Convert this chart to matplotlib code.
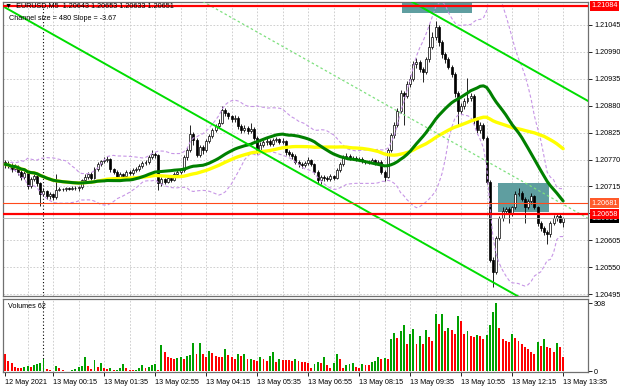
# EURUSD M5 chart, MetaTrader style: candles, SMA 30/50, Bollinger 20,
# regression channel, levels and a volume sub-window.
import numpy as np
import pandas as pd
import matplotlib
matplotlib.use('Agg')
import matplotlib.pyplot as plt
from matplotlib.patches import Rectangle

# prices are stored as points above 1.20000 (1 point = 0.00001)
BASE = 1.20000
PT = 0.00001

open_first = 765
close = [
    760, 758, 750, 755, 745, 735, 742, 715, 730, 737,
    722, 700, 705, 695, 700, 693, 708, 710, 709, 711,
    710, 712, 711, 713, 728, 735, 740, 733, 750, 760,
    766, 770, 772, 750, 745, 735, 740, 737, 745, 742,
    748, 750, 757, 763, 765, 775, 782, 780, 722, 730,
    725, 733, 728, 740, 745, 748, 775, 790, 822, 810,
    780, 795, 790, 808, 818, 830, 838, 845, 872, 865,
    858, 852, 855, 838, 830, 835, 828, 832, 815, 790,
    800, 805, 808, 802, 810, 812, 806, 808, 785, 782,
    778, 765, 760, 758, 762, 768, 760, 745, 728, 735,
    732, 730, 736, 733, 748, 760, 775, 778, 772, 774,
    770, 772, 766, 764, 765, 768, 762, 765, 745, 735,
    790, 820, 840, 870, 905, 900, 925, 935, 965, 970,
    955, 948, 975, 1000, 1020, 1040, 1010, 985, 975, 960,
    945, 905, 870, 880, 890, 895, 900, 850, 830, 840,
    815, 725, 565, 540, 610, 650, 665, 668, 660, 672,
    700, 702, 690, 672, 685, 695, 672, 640, 630, 622,
    618, 640, 650, 655, 643, 651]
high = [
    768, 766, 762, 760, 758, 748, 746, 744, 734, 741,
    739, 724, 712, 708, 704, 702, 741, 713, 712, 713,
    714, 715, 716, 716, 731, 740, 745, 744, 755, 764,
    770, 775, 777, 774, 753, 749, 744, 743, 748, 748,
    752, 755, 760, 767, 770, 780, 790, 786, 782, 735,
    733, 737, 736, 744, 749, 752, 779, 795, 840, 826,
    813, 800, 799, 812, 822, 834, 843, 852, 880, 876,
    868, 862, 860, 858, 842, 840, 839, 845, 836, 818,
    805, 810, 813, 812, 815, 817, 815, 813, 810, 790,
    786, 781, 769, 764, 767, 775, 772, 763, 748, 739,
    738, 736, 740, 739, 752, 765, 779, 783, 781, 778,
    777, 776, 775, 769, 769, 773, 771, 770, 768, 748,
    794, 825, 846, 876, 912, 910, 931, 942, 972, 978,
    974, 960, 980, 1047, 1030, 1053, 1044, 1015, 990, 980,
    964, 948, 910, 886, 896, 937, 906, 904, 856, 846,
    845, 818, 728, 570, 614, 655, 672, 673, 672, 676,
    706, 712, 706, 694, 690, 702, 698, 675, 645, 634,
    626, 645, 656, 660, 660, 653]
low = [
    752, 752, 745, 746, 738, 728, 730, 710, 712, 726,
    716, 676, 695, 690, 690, 688, 690, 705, 706, 706,
    707, 707, 708, 706, 710, 724, 731, 728, 730, 746,
    756, 762, 765, 745, 740, 730, 731, 733, 734, 738,
    739, 745, 746, 753, 758, 761, 772, 774, 708, 716,
    720, 721, 724, 726, 736, 741, 745, 770, 786, 800,
    775, 776, 782, 786, 804, 814, 826, 834, 842, 858,
    852, 846, 846, 832, 824, 826, 823, 824, 810, 782,
    786, 796, 800, 797, 798, 806, 801, 802, 780, 777,
    772, 760, 755, 753, 754, 758, 756, 740, 722, 720,
    727, 726, 727, 729, 730, 745, 757, 771, 768, 768,
    766, 766, 762, 760, 760, 762, 758, 759, 740, 727,
    732, 786, 815, 836, 866, 840, 896, 918, 930, 958,
    948, 928, 944, 970, 995, 1015, 1002, 978, 968, 955,
    938, 898, 839, 864, 874, 885, 890, 843, 823, 825,
    810, 720, 560, 509, 535, 605, 645, 660, 640, 655,
    668, 695, 685, 641, 668, 680, 668, 635, 624, 616,
    598, 612, 636, 645, 640, 633]
volume = [
    77, 46, 38, 20, 15, 12, 18, 22, 18, 28,
    34, 38, 54, 8, 4, 2, 22, 12, 3, 2,
    1, 4, 10, 18, 25, 66, 23, 10, 49, 18,
    35, 12, 11, 16, 4, 6, 15, 31, 12, 6,
    3, 6, 12, 28, 15, 18, 28, 34, 6, 120,
    85, 62, 58, 54, 58, 62, 54, 69, 74, 126,
    77, 126, 77, 65, 92, 83, 68, 66, 62, 100,
    74, 65, 54, 80, 69, 77, 54, 57, 51, 46,
    62, 54, 46, 69, 89, 43, 54, 51, 50, 49,
    48, 57, 46, 43, 41, 38, 15, 31, 43, 38,
    62, 28, 15, 38, 80, 54, 12, 28, 34, 38,
    18, 12, 31, 28, 27, 43, 46, 62, 54, 58,
    54, 146, 172, 151, 182, 208, 123, 169, 192, 123,
    162, 123, 185, 157, 139, 259, 216, 262, 182, 197,
    188, 169, 249, 228, 169, 182, 162, 154, 166,
    162, 146, 166, 208, 270, 308, 197, 146, 139, 131,
    169, 150, 139, 123, 108, 100, 85, 77, 131, 115, 146,
    108, 107, 89, 126, 111, 62]

time_ticks = [0, 15, 31, 47, 63, 79, 95, 111, 127, 143, 159, 175]
time_labels = ['12 May 2021', '13 May 00:15', '13 May 01:35', '13 May 02:55',
               '13 May 04:15', '13 May 05:35', '13 May 06:55', '13 May 08:15',
               '13 May 09:35', '13 May 10:55', '13 May 12:15', '13 May 13:35']
day_break = 12                     # 13 May 00:00
price_levels = [495, 550, 605, 660, 715, 770, 825, 880, 935, 990, 1045]

# drawn objects
red_levels = [1084, 658]
orange_level = 681
zones = [(125, 146, 1070, 1100), (155, 170, 662, 721)]   # bar from/to, price low/high
channel_start = 1080.6             # lower line at bar 0
channel_slope = -3.67              # points per bar
channel_size = 480

FS = 5.2
plt.rcParams['font.family'] = ['Liberation Sans', 'DejaVu Sans']
plt.rcParams['font.size'] = FS

W, H = 620, 388
fig = plt.figure(figsize=(W / 100, H / 100), dpi=100)
fig.patch.set_facecolor('white')


def px_axes(l, t, r, b):
    return fig.add_axes([l / W, 1 - b / H, (r - l) / W, (b - t) / H])


ax = px_axes(3, 2, 588, 296)
axv = px_axes(3, 299, 588, 372)

n = len(close)
idx = np.arange(n)
c = BASE + np.array(close) * PT
o = BASE + np.array([open_first] + close[:-1]) * PT
h = BASE + np.array(high) * PT
lo = BASE + np.array(low) * PT

s = pd.Series(c)
sma30 = s.rolling(30, min_periods=1).mean()
sma50 = s.rolling(50, min_periods=1).mean()
bb_mid = s.rolling(20, min_periods=1).mean()
bb_std = s.rolling(20, min_periods=1).std(ddof=0)

xlim = (-0.7, 182.8)
grid_kw = dict(color='#c8c8c8', lw=0.6, ls=(0, (2, 2)), zorder=0.5)

# ---- main window
for a in (ax, axv):
    a.set_xlim(*xlim)
    for g in range(7, n, 8):
        a.axvline(g, **grid_kw)
    a.axvline(day_break, color='black', lw=0.8, ls=(0, (1, 2)), zorder=0.6)
    for sp in a.spines.values():
        sp.set_color('#707070')
        sp.set_linewidth(0.9)

ax.set_ylim(BASE + 491 * PT, BASE + 1092 * PT)
for p in price_levels:
    ax.axhline(BASE + p * PT, **grid_kw)

for b0, b1, p0, p1 in zones:
    ax.add_patch(Rectangle((b0 - 0.5, BASE + p0 * PT), b1 - b0 + 1, (p1 - p0) * PT,
                           facecolor='#5f9ea0', edgecolor='none', zorder=1))

# candles
bull = c >= o
ax.vlines(idx, lo, h, color='black', lw=0.6, zorder=2)
body = np.maximum(np.abs(c - o), 0.5 * PT)
ax.bar(idx, body, bottom=np.minimum(o, c), width=0.62,
       color=np.where(bull, 'white', 'black'), edgecolor='black', lw=0.5, zorder=2.1)

# indicators
band_kw = dict(color='#c796e6', lw=0.8, ls=(0, (3, 2)), zorder=2.5)
ax.plot(idx, bb_mid + 2 * bb_std, **band_kw)
ax.plot(idx, bb_mid - 2 * bb_std, **band_kw)
ax.plot(idx, sma50, color='#ffff00', lw=2.4, zorder=2.6, solid_capstyle='round')
ax.plot(idx, sma30, color='#008000', lw=2.2, zorder=2.7, solid_capstyle='round')

# regression channel
cx = np.array([0, xlim[1]])
lower = BASE + (channel_start + channel_slope * cx) * PT
ax.plot(cx, lower, color='#00dd00', lw=1.4, zorder=3)
ax.plot(cx, lower + channel_size * PT, color='#00dd00', lw=1.4, zorder=3)
ax.plot(cx, lower + channel_size / 2 * PT, color='#7ee07e', lw=0.9,
        ls=(0, (2, 2)), zorder=3)

# horizontal levels
ax.axhline(c[-1], color='#b0b0b0', lw=0.6, zorder=3)
ax.axhline(BASE + orange_level * PT, color='#ff4a1c', lw=0.8, zorder=3.1)
for lv in red_levels:
    ax.axhline(BASE + lv * PT, color='#ff0000', lw=1.6, zorder=3.2)

# price scale: the level that sits under the red 1.20658 tag gets no text
ax.yaxis.tick_right()
ax.set_yticks([BASE + p * PT for p in price_levels])
ax.set_yticklabels(['' if abs(p - red_levels[1]) < 10 else f'{BASE + p * PT:.5f}'
                    for p in price_levels])
ax.tick_params(axis='y', length=3, width=0.6, pad=1.5, labelsize=FS)
ax.set_xticks([])

# price tags on the scale
ytr = ax.get_yaxis_transform()
lab_kw = dict(transform=ytr, va='center', ha='left', fontsize=FS, clip_on=False,
              zorder=6, color='white')
tag_box = dict(boxstyle='square,pad=0.2', ec='none')
ax.text(1.006, c[-1] - 1.5 * PT, f'{c[-1]:.5f}', bbox=dict(fc='black', **tag_box), **lab_kw)
ax.text(1.006, BASE + orange_level * PT, f'{BASE + orange_level * PT:.5f}',
        bbox=dict(fc='#ff5a2a', **tag_box), **lab_kw)
for lv in red_levels:
    ax.text(1.006, BASE + lv * PT, f'{BASE + lv * PT:.5f}',
            bbox=dict(fc='#ff0000', **tag_box), **lab_kw)

fig.text(5 / W, 1 - 6 / H,
         f'\u25bc  EURUSD,M5  {o[-1]:.5f} {h[-1]:.5f} {lo[-1]:.5f} {c[-1]:.5f}',
         va='center', ha='left', fontsize=FS)
fig.text(9 / W, 1 - 18 / H,
         f'Channel size = {channel_size} Slope = {channel_slope:.2f}',
         va='center', ha='left', fontsize=FS)

# ---- volumes window (green when volume rose, red when it fell)
vol = np.array(volume)
up = np.r_[False, vol[1:] > vol[:-1]]
axv.bar(idx, vol, width=0.6, color=np.where(up, '#00a000', '#ff0000'), zorder=2)
axv.set_ylim(-4, 328)
axv.yaxis.tick_right()
axv.set_yticks([0, vol.max()])
axv.set_yticklabels(['0', str(vol.max())])
axv.tick_params(axis='y', length=3, width=0.6, pad=1.5, labelsize=FS)
axv.set_xticks(time_ticks)
axv.set_xticklabels(time_labels, ha='left')
axv.tick_params(axis='x', length=3, width=0.6, pad=2, labelsize=FS)
axv.text(0.008, 0.9, f'Volumes {vol[-1]}', transform=axv.transAxes,
         va='center', ha='left', fontsize=FS)

fig.savefig('out.png', dpi=100)
